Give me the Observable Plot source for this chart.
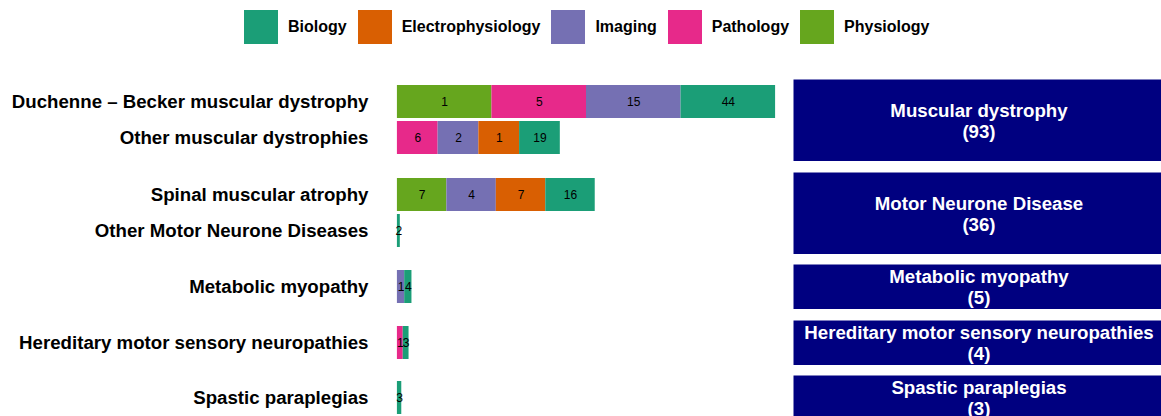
<!DOCTYPE html>
<html>
<head>
<meta charset="utf-8">
<script src="https://cdn.jsdelivr.net/npm/d3@7"></script>
<script src="https://cdn.jsdelivr.net/npm/@observablehq/plot@0.6"></script>
<style>
  html, body { margin: 0; padding: 0; background: #fff; overflow: hidden; width: 1161px; height: 416px; }
  body { font-family: "Liberation Sans", Arial, Helvetica, sans-serif; position: relative; }
  #legend { position: absolute; top: 10px; left: 244px; }
  .lg-swatch { margin-right: 11px !important; }
  .lg-swatch > svg { margin-right: 10px !important; }
  .row { position: absolute; left: 0; width: 1164px; }
  .row > svg { max-width: none !important; }
  .row > .bp { position: absolute; left: 0; top: 0; }
  .row > .sp { position: absolute; left: 793px; top: 0; }
  .bp [aria-label="y-axis tick label"] { font-size: 18.67px; font-weight: bold; }
  svg { font-family: "Liberation Sans", Arial, Helvetica, sans-serif; }
</style>
</head>
<body>
<div id="legend"></div>
<div id="chart"></div>
<script>
// ---- data ----
const diseases = [
  "Duchenne – Becker muscular dystrophy",
  "Other muscular dystrophies",
  "Spinal muscular atrophy",
  "Other Motor Neurone Diseases",
  "Metabolic myopathy",
  "Hereditary motor sensory neuropathies",
  "Spastic paraplegias"
];
const groups = [
  "Muscular dystrophy",
  "Muscular dystrophy",
  "Motor Neurone Disease",
  "Motor Neurone Disease",
  "Metabolic myopathy",
  "Hereditary motor sensory neuropathies",
  "Spastic paraplegias"
];
const types = ["Biology", "Electrophysiology", "Imaging", "Pathology", "Physiology"];
const typeColors = ["#1b9e77", "#d95f02", "#7570b3", "#e7298a", "#66a61e"];
const biology           = [44, 19, 16, 2, 4, 3, 3];
const electrophysiology = [ 0,  1,  7, 0, 0, 0, 0];
const imaging           = [15,  2,  4, 0, 1, 0, 0];
const pathology         = [ 5,  6,  0, 0, 0, 1, 0];
const physiology        = [ 1,  0,  7, 0, 0, 0, 0];

const valuesByType = {
  Biology: biology,
  Electrophysiology: electrophysiology,
  Imaging: imaging,
  Pathology: pathology,
  Physiology: physiology
};

// build table: each segment drawn with the width of its row total (as in the original chart)
const rows = [];
diseases.forEach((d, i) => {
  const total = d3.sum(types, t => valuesByType[t][i]);
  types.slice().reverse().forEach(t => {
    const v = valuesByType[t][i];
    if (v > 0) rows.push({disease: d, group: groups[i], type: t, value: v, width: total});
  });
});
const maxStack = d3.max(d3.rollups(rows, v => d3.sum(v, r => r.width), r => r.disease), r => r[1]);
const xDomain = [-0.05 * maxStack, 1.05 * maxStack];

// ---- legend ----
document.getElementById("legend").appendChild(Plot.legend({
  color: {domain: types, range: typeColors},
  legend: "swatches",
  swatchSize: 34,
  className: "lg",
  style: {fontSize: "16px", fontWeight: "bold", fontFamily: '"Liberation Sans", Arial, sans-serif', color: "#000", marginBottom: "0"}
}));

// ---- panels ----
const step = 37;
const gap = 10.5;
let yPos = 79;
const chart = document.getElementById("chart");
const uniqueGroups = Array.from(new Set(groups));
uniqueGroups.forEach(g => {
  const ds = diseases.filter((d, i) => groups[i] === g);
  const data = rows.filter(r => r.group === g);
  const H = ds.length * step + 8;
  const total = d3.sum(data, r => r.value);

  const row = document.createElement("div");
  row.className = "row";
  row.style.top = yPos + "px";
  row.style.height = H + "px";

  const bars = Plot.plot({
    className: "bp",
    width: 794,
    height: H,
    marginLeft: 378,
    marginRight: 0,
    marginTop: 0,
    marginBottom: 0,
    x: {domain: xDomain, axis: null},
    y: {domain: ds, paddingInner: 0.08, paddingOuter: 0.15},
    color: {domain: types, range: typeColors},
    style: {fontFamily: '"Liberation Sans", Arial, sans-serif', background: "transparent", maxWidth: "none"},
    marks: [
      Plot.barX(data, Plot.stackX({x: "width", y: "disease", fill: "type"})),
      Plot.textX(data, Plot.stackX({x: "width", y: "disease", text: "value", fill: "black", fontSize: 12})),
      Plot.axisY({tickSize: 0, tickPadding: 10, label: null, fontSize: 18.67, fontWeight: "bold"})
    ]
  });

  const strip = Plot.plot({
    className: "sp",
    width: 371,
    height: H,
    margin: 0,
    style: {fontFamily: '"Liberation Sans", Arial, sans-serif', background: "transparent", maxWidth: "none"},
    marks: [
      Plot.frame({fill: "#000080", stroke: null}),
      Plot.text([`${g}\n(${total})`], {frameAnchor: "middle", text: d => d, fill: "white", fontWeight: "bold", fontSize: 18.67, lineHeight: 1.125})
    ]
  });

  row.appendChild(bars);
  row.appendChild(strip);
  chart.appendChild(row);
  yPos += H + gap;
});
</script>
</body>
</html>
